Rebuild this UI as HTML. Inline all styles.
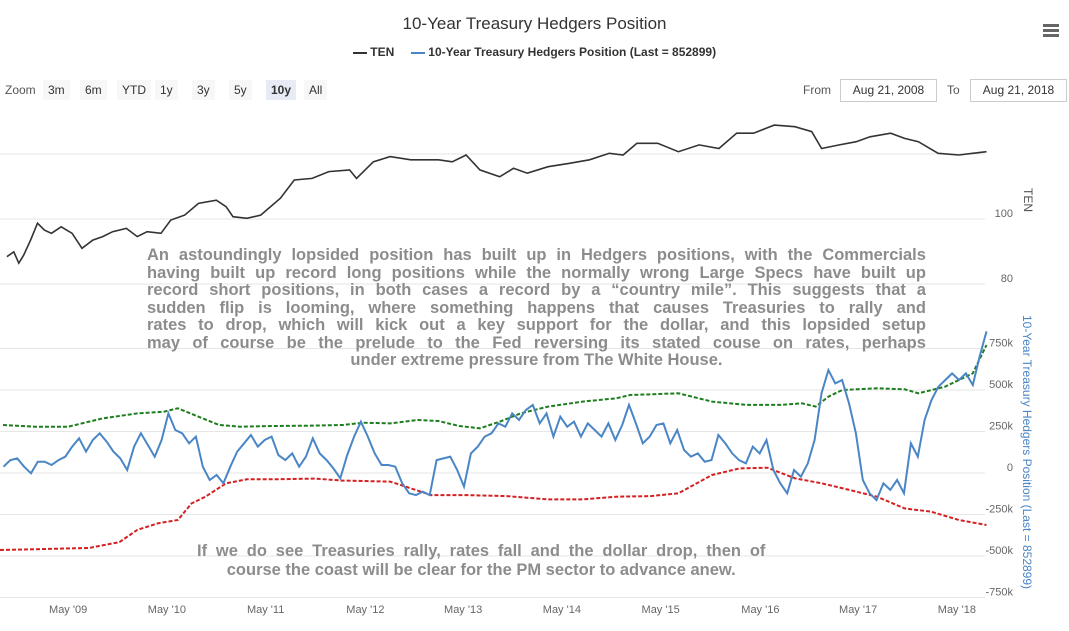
<!DOCTYPE html>
<html><head><meta charset="utf-8">
<style>
body{margin:0;width:1069px;height:631px;background:#fff;overflow:hidden;font-family:"Liberation Sans",sans-serif;position:relative}
.a{position:absolute}
.btn{position:absolute;top:80px;height:20px;line-height:20px;font-size:12px;color:#333;background:#f7f7f7;text-align:center;padding:0 5px}
.box{position:absolute;top:79px;height:21px;border:1px solid #ccc;font-size:12px;line-height:21px;text-align:center;color:#333}
.note{position:absolute;font-family:"Liberation Sans",sans-serif;font-weight:bold;color:#8c8c8c;font-size:17px;line-height:17.5px;transform:scaleX(0.97);transform-origin:0 0}
.note div{text-align:justify;text-align-last:justify;white-space:nowrap}
.note div.c{text-align:center;text-align-last:center}
</style></head><body>
<div class="a" style="left:0;width:1069px;top:14px;text-align:center;font-size:17px;color:#333">10-Year Treasury Hedgers Position</div>
<div class="a" style="left:0;width:1069px;top:45px;text-align:center;font-size:12px;font-weight:bold;color:#333">
<span><span style="display:inline-block;width:14px;height:2px;background:#333;vertical-align:middle"></span> TEN</span>
&nbsp;&nbsp;&nbsp;&nbsp;<span><span style="display:inline-block;width:14px;height:2px;background:#4a86c5;vertical-align:middle"></span> 10-Year Treasury Hedgers Position (Last = 852899)</span></div>
<div class="a" style="left:1043px;top:24px;width:16px">
<div style="height:3px;background:#666;margin-bottom:2px"></div><div style="height:3px;background:#666;margin-bottom:2px"></div><div style="height:3px;background:#666"></div></div>
<div class="a" style="left:5px;top:83px;font-size:12px;color:#555">Zoom</div>
<div class="btn" style="left:43px">3m</div>
<div class="btn" style="left:80px">6m</div>
<div class="btn" style="left:117px">YTD</div>
<div class="btn" style="left:155px">1y</div>
<div class="btn" style="left:192px">3y</div>
<div class="btn" style="left:229px">5y</div>
<div class="btn" style="left:266px;background:#e6ebf5;font-weight:bold">10y</div>
<div class="btn" style="left:304px">All</div>
<div class="a" style="left:803px;top:83px;font-size:12px;color:#555">From</div>
<div class="box" style="left:840px;width:95px">Aug 21, 2008</div>
<div class="a" style="left:947px;top:83px;font-size:12px;color:#555">To</div>
<div class="box" style="left:970px;width:95px">Aug 21, 2018</div>

<svg class="a" style="left:0;top:0" width="1069" height="631" id="chart"></svg>

<div class="note" style="left:147px;top:246px;width:803px">
<div>An astoundingly lopsided position has built up in Hedgers positions, with the Commercials</div>
<div>having built up record long positions while the normally wrong Large Specs have built up</div>
<div>record short positions, in both cases a record by a “country mile”. This suggests that a</div>
<div>sudden flip is looming, where something happens that causes Treasuries to rally and</div>
<div>rates to drop, which will kick out a key support for the dollar, and this lopsided setup</div>
<div>may of course be the prelude to the Fed reversing its stated couse on rates, perhaps</div>
<div class="c">under extreme pressure from The White House.</div>
</div>
<div class="note" style="left:197px;top:541px;width:586px;line-height:19px">
<div>If we do see Treasuries rally, rates fall and the dollar drop, then of</div>
<div class="c">course the coast will be clear for the PM sector to advance anew.</div>
</div>

<script>
const tenT=[.07,.14,.19,.24,.31,.38,.45,.52,.62,.73,.83,.94,1.04,1.14,1.28,1.39,1.49,1.63,1.73,1.87,2.01,2.19,2.29,2.36,2.50,2.64,2.84,2.98,3.16,3.33,3.54,3.61,3.78,3.95,4.16,4.44,4.58,4.72,4.86,5.06,5.20,5.34,5.55,5.76,5.97,6.17,6.31,6.45,6.66,6.87,7.08,7.28,7.46,7.63,7.84,8.05,8.22,8.32,8.50,8.67,8.81,9.02,9.16,9.30,9.50,9.71,9.85,9.99];
const tenValues=[88.4,89.9,86.4,88.9,93.5,98.7,96.6,95.6,97.6,95.6,91.0,93.5,94.6,96.1,97.1,94.6,96.1,95.6,99.7,101.2,104.8,105.8,103.8,100.7,100.2,101.2,106.4,112.0,112.5,114.6,115.1,112.5,117.6,119.2,118.2,118.2,117.6,119.7,115.1,113.0,115.6,114.1,116.1,117.1,118.2,120.2,119.7,123.3,123.3,120.7,122.8,121.7,126.4,126.4,128.9,128.4,126.9,121.7,122.8,123.8,125.3,126.4,124.8,123.8,120.2,119.7,120.2,120.7];
const hedgeStart=0.035, hedgeEnd=9.99;
const hedgeValues=[38,78,88,38,-2,68,68,48,78,98,159,209,129,199,239,189,129,88,18,159,239,169,98,199,359,259,239,179,219,38,-42,-12,-62,38,129,179,229,159,199,219,108,78,118,38,98,209,118,78,28,-32,108,219,309,219,118,48,48,38,-62,-122,-133,-112,-133,78,88,98,18,-82,118,159,219,239,299,279,359,319,380,410,299,359,219,339,279,309,219,299,259,219,299,199,289,410,299,179,219,289,299,179,259,139,98,118,68,78,229,179,118,78,58,159,118,199,18,-62,-122,18,-22,58,199,480,620,540,560,420,239,-42,-122,-163,-62,-102,-42,-122,179,98,319,440,520,560,600,560,600,530,701,852.9];
const greenT=[.03,.35,.69,1.04,1.39,1.66,1.80,2.01,2.22,2.43,2.77,3.12,3.47,3.68,3.95,4.23,4.44,4.65,4.86,5.06,5.27,5.55,5.90,6.24,6.38,6.59,6.87,7.21,7.56,7.91,8.12,8.26,8.39,8.53,8.88,9.16,9.30,9.57,9.85,9.99];
const greenValues=[289,279,279,329,359,369,390,339,289,279,283,285,289,303,299,319,313,283,269,309,359,400,430,450,470,474,480,430,410,410,420,400,460,500,510,504,480,520,600,771];
const redT=[0,.90,1.21,1.39,1.60,1.80,1.94,2.08,2.29,2.50,2.77,3.19,3.47,3.95,4.16,4.37,4.72,5.13,5.55,5.90,6.24,6.59,6.87,7.21,7.49,7.77,8.05,8.32,8.60,8.88,9.16,9.43,9.71,9.99];
const redValues=[-464,-452,-416,-343,-303,-283,-183,-143,-62,-38,-38,-34,-46,-52,-92,-133,-133,-139,-159,-159,-143,-139,-122,-12,28,32,-32,-62,-102,-143,-213,-233,-283,-313];
const xTickLabels=["May '09","May '10","May '11","May '12","May '13","May '14","May '15","May '16","May '17","May '18"];
const xTickT=[0.69,1.69,2.69,3.70,4.69,5.69,6.69,7.70,8.69,9.69];
const tenTicks=[120,100,80];
const tenTickLabels=["","100","80"];
const hedgeTicks=[750,500,250,0,-250,-500,-750];
const hedgeTickLabels=["750k","500k","250k","0","-250k","-500k","-750k"];

const NS="http://www.w3.org/2000/svg";
const svg=document.getElementById('chart');
const X=t=>t*98.75;
const YT=v=>219-(v-100)*3.25;
const YH=v=>473-v/250*41.5;
function mk(tag,attrs){const e=document.createElementNS(NS,tag);for(const k in attrs)e.setAttribute(k,attrs[k]);svg.appendChild(e);return e;}
tenTicks.forEach((v,i)=>{
  const g=mk('line',{x1:0,x2:985,y1:YT(v),y2:YT(v),stroke:'#e6e6e6'});
  
  
  const t=mk('text',{x:1013,y:YT(v)-2,'text-anchor':'end','font-size':11,fill:'#666','font-family':'Liberation Sans, sans-serif'});
  t.textContent=tenTickLabels[i];
  
  
});
hedgeTicks.forEach((v,i)=>{
  const g=mk('line',{x1:0,x2:985,y1:YH(v),y2:YH(v),stroke:'#e6e6e6'});
  
  
  const t=mk('text',{x:1013,y:YH(v)-2,'text-anchor':'end','font-size':11,fill:'#666','font-family':'Liberation Sans, sans-serif'});
  t.textContent=hedgeTickLabels[i];
  
  
});
xTickT.forEach((tt,i)=>{
  const t=mk('text',{x:X(tt),y:613,'text-anchor':'middle','font-size':11,fill:'#666','font-family':'Liberation Sans, sans-serif'});
  t.textContent=xTickLabels[i];
  
  
});
function path(ts,vs,Y){return ts.map((t,i)=>(i?'L':'M')+X(t).toFixed(1)+','+Y(vs[i]).toFixed(1)).join('');}
const green=mk('path',{d:path(greenT,greenValues,YH),fill:'none',stroke:'#1e7d1e','stroke-width':2,'stroke-dasharray':'4,2'});


const red=mk('path',{d:path(redT,redValues,YH),fill:'none',stroke:'#d42020','stroke-width':2,'stroke-dasharray':'4,2'});


const step=(hedgeEnd-hedgeStart)/(hedgeValues.length-1);
const hT=hedgeValues.map((v,i)=>hedgeStart+i*step);
const blue=mk('path',{d:path(hT,hedgeValues,YH),fill:'none',stroke:'#4a86c5','stroke-width':2});


const ten=mk('path',{d:path(tenT,tenValues,YT),fill:'none',stroke:'#333','stroke-width':1.6});


const t1=mk('text',{x:1024,y:200,'font-size':12,fill:'#555',transform:'rotate(90 1024 200)','text-anchor':'middle','font-family':'Liberation Sans, sans-serif'});
t1.textContent='TEN';


const t2=mk('text',{x:1023,y:452,'font-size':12,fill:'#4a86c5',transform:'rotate(90 1023 452)','text-anchor':'middle','font-family':'Liberation Sans, sans-serif'});
t2.textContent='10-Year Treasury Hedgers Position (Last = 852899)';


</script>
</body></html>
